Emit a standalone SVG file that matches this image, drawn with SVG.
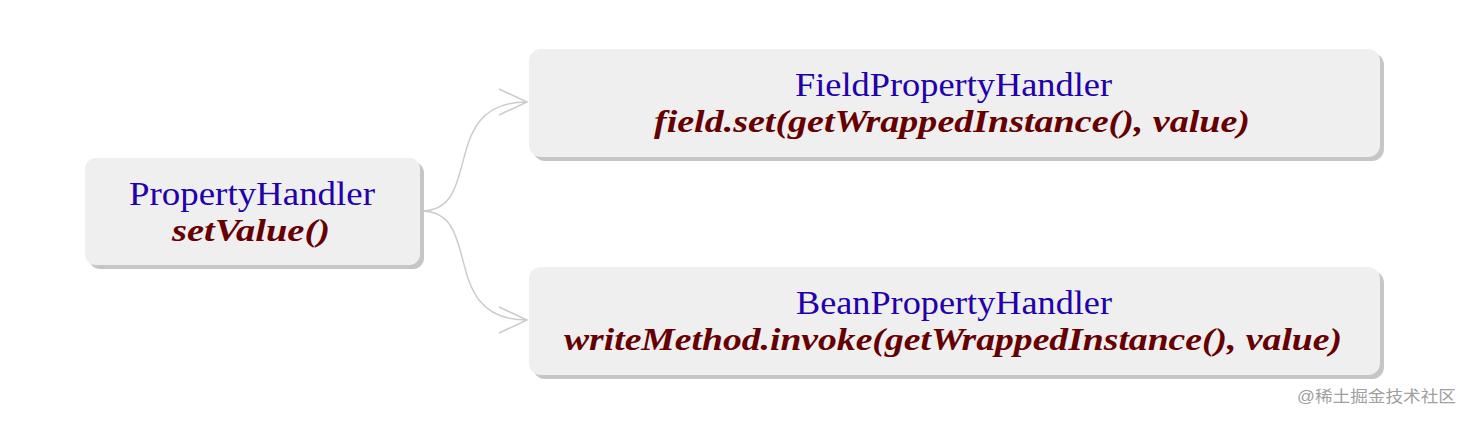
<svg xmlns="http://www.w3.org/2000/svg" width="1471" height="421" viewBox="0 0 1471 421">
<style>
.shadow{fill:#c6c6c6}
.box{fill:#efefef}
.title{font-family:"Liberation Serif",serif;font-size:34px;fill:#2200aa;text-anchor:middle}
.code{font-family:"Liberation Serif",serif;font-size:32px;font-weight:bold;font-style:italic;fill:#660000;text-anchor:middle}
.edge{fill:none;stroke:#cccccc;stroke-width:1.5}
.wm{font-family:"Liberation Sans","Noto Sans CJK SC",sans-serif;font-size:16px;fill:#a0a0a0}
</style>
<rect width="1471" height="421" fill="#ffffff"/>
<g id="connectors">
<path class="edge" d="M421,211 C485,211 437,102 527,102"/>
<path class="edge" d="M499,89 L527,102 L499,115"/>
<path class="edge" d="M421,211 C485,211 437,320 527,320"/>
<path class="edge" d="M499,307 L527,320 L499,333"/>
</g>
<g id="node-propertyhandler">
<rect class="shadow" x="89" y="162" width="335" height="107" rx="11"/>
<rect class="box" x="85" y="158" width="335" height="107" rx="11"/>
<text class="title" x="252" y="205" textLength="246" lengthAdjust="spacingAndGlyphs">PropertyHandler</text>
<text class="code" x="251" y="241" textLength="158" lengthAdjust="spacingAndGlyphs">setValue()</text>
</g>
<g id="node-field">
<rect class="shadow" x="533" y="53" width="851" height="108" rx="12"/>
<rect class="box" x="529" y="49" width="851" height="108" rx="12"/>
<text class="title" x="953.5" y="96" textLength="317" lengthAdjust="spacingAndGlyphs">FieldPropertyHandler</text>
<text class="code" x="952" y="132" textLength="596" lengthAdjust="spacingAndGlyphs">field.set(getWrappedInstance(), value)</text>
</g>
<g id="node-bean">
<rect class="shadow" x="533" y="271" width="851" height="108" rx="12"/>
<rect class="box" x="529" y="267" width="851" height="108" rx="12"/>
<text class="title" x="954" y="314" textLength="316" lengthAdjust="spacingAndGlyphs">BeanPropertyHandler</text>
<text class="code" x="953" y="350" textLength="778" lengthAdjust="spacingAndGlyphs">writeMethod.invoke(getWrappedInstance(), value)</text>
</g>
<text class="wm" x="1297" y="402" textLength="159" lengthAdjust="spacingAndGlyphs">@稀土掘金技术社区</text>
</svg>
